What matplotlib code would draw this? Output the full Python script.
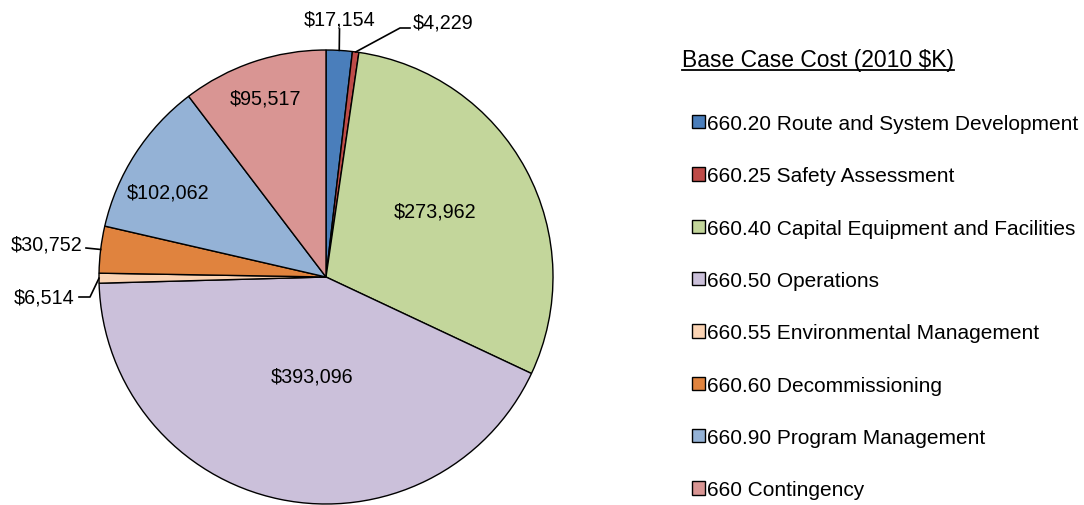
import numpy as np
import matplotlib.pyplot as plt
from matplotlib.lines import Line2D

plt.rcParams['font.family'] = ['Liberation Sans', 'DejaVu Sans']

categories = ['660.20 Route and System Development', '660.25 Safety Assessment',
              '660.40 Capital Equipment and Facilities', '660.50 Operations',
              '660.55 Environmental Management', '660.60 Decommissioning',
              '660.90 Program Management', '660 Contingency']
values = [17154, 4229, 273962, 393096, 6514, 30752, 102062, 95517]
value_labels = ['$17,154', '$4,229', '$273,962', '$393,096',
                '$6,514', '$30,752', '$102,062', '$95,517']
colors = ['#4A7EBB', '#BE4B48', '#C3D69B', '#CBC0DA',
          '#FBD4B4', '#E0833E', '#94B2D6', '#D99593']
legend_title = 'Base Case Cost (2010 $K)'

W, H = 1084, 506
fig = plt.figure(figsize=(W / 100, H / 100), dpi=100)
ax = fig.add_axes([0, 0, 1, 1])

cx, cy, r = 326, 228, 227
wedges, _ = ax.pie(values, colors=colors, startangle=90, counterclock=False,
                   center=(cx, cy), radius=r, frame=True,
                   wedgeprops=dict(edgecolor='black', linewidth=1.0))
ax.set_xlim(0, W)
ax.set_ylim(0, H)
ax.set_aspect('equal')
ax.axis('off')

fs = 14.2
# inside labels: fraction of radius, small angle nudge (deg)
inside = {2: (0.56, 3), 3: (0.44, 4), 6: (0.79, 4.5), 7: (0.83, 0)}
for i, (f, da) in inside.items():
    w = wedges[i]
    ang = np.deg2rad((w.theta1 + w.theta2) / 2 + da)
    ax.text(cx + f * r * np.cos(ang), cy + f * r * np.sin(ang), value_labels[i],
            ha='center', va='center', fontsize=fs)

# outside labels with leader lines
def leader(i, pts, txy, ha):
    w = wedges[i]
    ang = np.deg2rad((w.theta1 + w.theta2) / 2)
    ex, ey = cx + r * np.cos(ang), cy + r * np.sin(ang)
    xs = [ex] + [p[0] for p in pts]
    ys = [ey] + [p[1] for p in pts]
    ax.add_line(Line2D(xs, ys, color='black', lw=1.2))
    ax.text(txy[0], txy[1], value_labels[i], ha=ha, va='center', fontsize=fs)

leader(0, [(339.5, H - 30)], (340, H - 20), 'center')
leader(1, [(400, H - 29), (410, H - 29)], (413, H - 23), 'left')
leader(5, [(86, H - 249)], (82, H - 245), 'right')
leader(4, [(90, H - 298), (79, H - 298)], (74, H - 298), 'right')

# legend title (underlined)
t = fig.text(682 / W, 1 - 60 / H, legend_title, ha='left', va='center', fontsize=16.5)

leg = fig.legend(wedges, categories, loc='upper left', bbox_to_anchor=(692 / W, 1 - 115 / H),
                 frameon=False, fontsize=15,
                 handlelength=0.63, handleheight=0.63, handletextpad=0.1,
                 labelspacing=1.60, borderpad=0, borderaxespad=0)

fig.canvas.draw()
bb = t.get_window_extent()
fig.add_artist(Line2D([bb.x0 / W, bb.x1 / W], [(bb.y0 + 1) / H, (bb.y0 + 1) / H],
                      transform=fig.transFigure, color='black', lw=1.3))

fig.savefig('out.png', dpi=100)
